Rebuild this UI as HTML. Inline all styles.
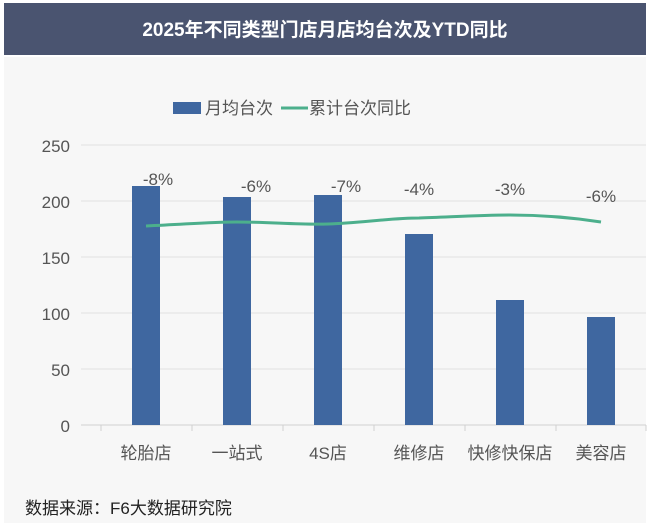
<!DOCTYPE html>
<html><head><meta charset="utf-8"><style>
body{margin:0;width:650px;height:523px;background:#fff;overflow:hidden;font-family:"Liberation Sans","Noto Sans CJK SC",sans-serif}
</style></head><body>
<svg width="650" height="523" xmlns="http://www.w3.org/2000/svg" font-family="Liberation Sans, Noto Sans CJK SC, sans-serif">
<rect x="0" y="0" width="650" height="523" fill="#ffffff"/>
<rect x="4" y="57" width="642" height="466" fill="#f7f7f7"/>
<rect x="4" y="3" width="642" height="52" fill="#4a5470"/>
<text x="325" y="36" fill="#fff" font-size="19" font-weight="bold" text-anchor="middle">2025年不同类型门店月店均台次及YTD同比</text>
<rect x="173" y="102" width="28" height="12" fill="#3f67a0"/>
<text x="205" y="114" font-size="17" fill="#555">月均台次</text>
<line x1="281" y1="108" x2="308" y2="108" stroke="#4caf8c" stroke-width="3"/>
<text x="309" y="114" font-size="17" fill="#555">累计台次同比</text>
<g stroke="#e0e0e0" stroke-width="1">
<line x1="81" y1="145" x2="646" y2="145"/><line x1="81" y1="201" x2="646" y2="201"/>
<line x1="81" y1="257" x2="646" y2="257"/><line x1="81" y1="313" x2="646" y2="313"/>
<line x1="81" y1="369" x2="646" y2="369"/>
<line x1="81" y1="425" x2="646" y2="425" stroke="#d0d0d0"/>
</g>
<g font-size="17" fill="#555" text-anchor="end">
<text x="70" y="152">250</text><text x="70" y="208">200</text><text x="70" y="264">150</text>
<text x="70" y="320">100</text><text x="70" y="376">50</text><text x="70" y="432">0</text>
</g>
<g fill="#3f67a0">
<rect x="132" y="186" width="28" height="239"/>
<rect x="223" y="197" width="28" height="228"/>
<rect x="314" y="195" width="28" height="230"/>
<rect x="405" y="234" width="28" height="191"/>
<rect x="496" y="300" width="28" height="125"/>
<rect x="587" y="317" width="28" height="108"/>
</g>
<path d="M146,226 C190,224 210,222 237,222 C270,222 300,225 328,224 C360,223 390,218 419,218 C450,217 480,215 510,215 C545,215 575,218 601,222" fill="none" stroke="#4caf8c" stroke-width="3"/>
<g font-size="17" fill="#555" text-anchor="middle">
<text x="158" y="185">-8%</text><text x="256" y="192">-6%</text><text x="346" y="192">-7%</text>
<text x="419" y="195">-4%</text><text x="510" y="195">-3%</text><text x="601" y="202">-6%</text>
</g>
<g font-size="17" fill="#555" text-anchor="middle">
<text x="146" y="459">轮胎店</text><text x="237" y="459">一站式</text><text x="328" y="459">4S店</text>
<text x="419" y="459">维修店</text><text x="510" y="459">快修快保店</text><text x="601" y="459">美容店</text>
</g>
<g stroke="#d0d0d0"><line x1="101" y1="425" x2="101" y2="431"/><line x1="192" y1="425" x2="192" y2="431"/><line x1="283" y1="425" x2="283" y2="431"/><line x1="374" y1="425" x2="374" y2="431"/><line x1="465" y1="425" x2="465" y2="431"/><line x1="556" y1="425" x2="556" y2="431"/><line x1="646" y1="425" x2="646" y2="431"/></g>
<text x="25" y="514" font-size="17" fill="#222">数据来源：F6大数据研究院</text>
</svg>
</body></html>
